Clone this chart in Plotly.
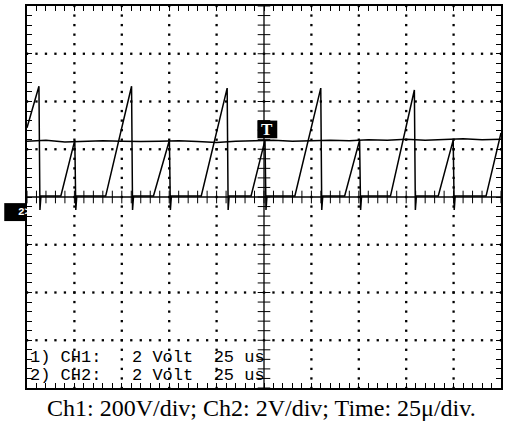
import plotly.graph_objects as go
import numpy as np

# ---- oscilloscope settings ----
time_per_div_us = 25
n_xdiv = 10
n_ydiv = 8

# ---- Ch2 (sawtooth), time in us, value in screen divisions ----
ch2_time_us = [0.0, 6.30, 6.83, 7.35, 17.86, 25.21, 25.74, 26.26,
               41.49, 55.15, 55.67, 56.20, 66.70, 75.11, 75.63, 76.16,
               91.91, 105.57, 106.09, 106.62, 118.17, 125.53, 126.05, 126.58,
               141.28, 154.94, 155.46, 155.99, 167.54, 175.42, 175.95, 176.47,
               191.70, 204.31, 204.83, 205.36, 216.91, 224.79, 225.32, 225.84,
               242.12, 250.0]
ch2_div = [1.45, 2.32, -0.27, 0.02, 0.02, 1.19, -0.27, 0.02,
           0.02, 2.32, -0.27, 0.02, 0.02, 1.19, -0.27, 0.02,
           0.02, 2.28, -0.27, 0.02, 0.02, 1.19, -0.27, 0.02,
           0.02, 2.28, -0.27, 0.02, 0.02, 1.19, -0.27, 0.02,
           0.02, 2.24, -0.27, 0.02, 0.02, 1.19, -0.27, 0.02,
           0.02, 1.34]

# ---- Ch1 (nearly flat), time in us, value in screen divisions ----
ch1_time_us = [0, 10, 20, 30, 40, 50, 60, 70, 80, 90, 100, 110, 120, 130,
               140, 150, 160, 170, 180, 190, 200, 210, 220, 230, 240, 250]
ch1_div = [1.17, 1.19, 1.15, 1.17, 1.18, 1.17, 1.16, 1.17, 1.18, 1.16, 1.14,
           1.17, 1.18, 1.19, 1.17, 1.18, 1.19, 1.18, 1.20, 1.19, 1.21, 1.19,
           1.20, 1.22, 1.20, 1.21]

info_lines = ["1) CH1:   2 Volt  25 us", "2) CH2:   2 Volt  25 us"]
caption = "Ch1: 200V/div; Ch2: 2V/div; Time: 25\u03bc/div."

xmax = n_xdiv * time_per_div_us
ymax = n_ydiv / 2
xc = xmax / 2

fig = go.Figure()

# dotted graticule
gx, gy = [], []
for xd in range(1, n_xdiv):
    if xd == n_xdiv // 2:
        continue
    for y in np.arange(-ymax, ymax + 1e-9, 0.2):
        gx.append(xd * time_per_div_us)
        gy.append(y)
for yd in range(-3, 4):
    if yd == 0:
        continue
    for x in np.arange(0, xmax + 1e-9, time_per_div_us / 5):
        gx.append(x)
        gy.append(yd)
fig.add_trace(go.Scatter(x=gx, y=gy, mode="markers",
                         marker=dict(symbol="square", size=2.3, color="black", line=dict(width=0)),
                         hoverinfo="skip", showlegend=False))

# centre axes
fig.add_trace(go.Scatter(x=[0, xmax], y=[0, 0], mode="lines",
                         line=dict(color="black", width=1.3), showlegend=False, hoverinfo="skip"))
fig.add_trace(go.Scatter(x=[xc, xc], y=[-ymax, ymax], mode="lines",
                         line=dict(color="black", width=1.3), showlegend=False, hoverinfo="skip"))
tx = np.arange(0, xmax + 1e-9, time_per_div_us / 5)
fig.add_trace(go.Scatter(x=tx, y=np.zeros_like(tx), mode="markers",
                         marker=dict(symbol="line-ns", size=9, line=dict(width=1, color="black")),
                         showlegend=False, hoverinfo="skip"))
ty = np.arange(-ymax, ymax + 1e-9, 0.2)
fig.add_trace(go.Scatter(x=np.full_like(ty, xc), y=ty, mode="markers",
                         marker=dict(symbol="line-ew", size=9, line=dict(width=1, color="black")),
                         showlegend=False, hoverinfo="skip"))

# signals
fig.add_trace(go.Scatter(x=ch1_time_us, y=ch1_div, mode="lines",
                         line=dict(color="black", width=1.5), showlegend=False))
fig.add_trace(go.Scatter(x=ch2_time_us, y=ch2_div, mode="lines",
                         line=dict(color="black", width=1.5), showlegend=False))

# trigger marker "T"
fig.add_shape(type="rect", x0=121.5, x1=132.0, y0=1.23, y1=1.60,
              fillcolor="black", line=dict(width=0), layer="above")
fig.add_annotation(x=126.8, y=1.415, text="<b>T</b>", showarrow=False,
                   font=dict(family="Liberation Serif", size=17, color="white"))

# Ch2 ground marker on the left
fig.add_shape(type="rect", xref="paper", yref="paper", x0=-0.048, x1=0.0,
              y0=0.437, y1=0.484, fillcolor="black", line=dict(width=0))
fig.add_annotation(xref="paper", yref="paper", x=-0.024, y=0.4605, text="<b>2&gt;</b>",
                   showarrow=False, font=dict(family="Liberation Mono", size=11, color="white"))

# info text
for i, line in enumerate(info_lines):
    fig.add_annotation(x=0.3, y=-3.36 - 0.38 * i, text=line.replace(" ", "&nbsp;"),
                       showarrow=False, xanchor="left", yanchor="middle",
                       font=dict(family="Liberation Mono", size=17, color="black"))

# caption
fig.add_annotation(xref="paper", yref="paper", x=(262.5 - 27) / 476, y=(388 - 408) / 382,
                   text=caption, showarrow=False, xanchor="center", yanchor="middle",
                   font=dict(family="Liberation Serif", size=24, color="black"))

axis_common = dict(showline=True, linewidth=2, linecolor="black", mirror="ticks",
                   ticks="inside", ticklen=5, tickwidth=1, tickcolor="black",
                   showgrid=False, zeroline=False, showticklabels=False, fixedrange=True)
fig.update_xaxes(range=[0, xmax], tick0=0, dtick=time_per_div_us / 5, **axis_common)
fig.update_yaxes(range=[-ymax, ymax], tick0=0, dtick=0.2, **axis_common)

fig.update_layout(width=505, height=424, margin=dict(l=27, r=2, t=6, b=36),
                  paper_bgcolor="white", plot_bgcolor="white", showlegend=False)

fig.write_html("out.html")
